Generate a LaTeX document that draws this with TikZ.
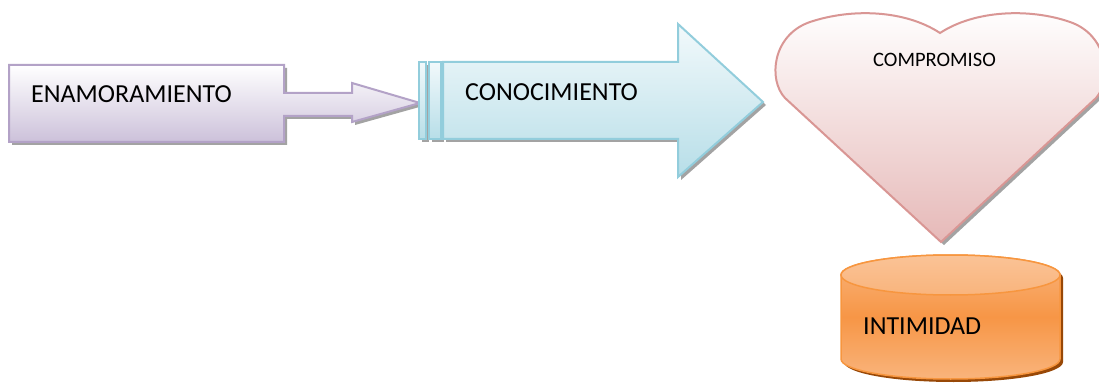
\documentclass[tikz,border=0pt]{standalone}
\usepackage{fontspec}
\setmainfont{Carlito}
\definecolor{purpleedge}{HTML}{B3A2C7}
\definecolor{purplelow}{HTML}{CCC1DA}
\definecolor{blueedge}{HTML}{92CDDC}
\definecolor{bluetop}{HTML}{F2F9FB}
\definecolor{bluelow}{HTML}{B7DEE8}
\definecolor{heartedge}{HTML}{D99694}
\definecolor{heartlow}{HTML}{E6B9B8}
\definecolor{orangemain}{HTML}{F79646}
\definecolor{orangelight}{HTML}{F9B47C}
\definecolor{orangeedge}{HTML}{F7963F}
\definecolor{brownshadow}{HTML}{984807}
\definecolor{shadowgray}{HTML}{A3A3A3}
\tikzset{
  shapeshadow/.style={fill=shadowgray, draw=none, shift={(3,3)}},
  purpleshape/.style={draw=purpleedge, line width=2pt, shading=axis, top color=white, bottom color=purplelow},
  blueshape/.style={draw=blueedge, line width=2pt, shading=axis, top color=bluetop, bottom color=bluelow},
  heartshape/.style={draw=heartedge, line width=2pt, shading=axis, top color=white, bottom color=heartlow},
  cylbody/.style={draw=orangeedge, line width=1.5pt, shading=axis, top color=orangelight, bottom color=orangelight, middle color=orangemain},
  cyltop/.style={draw=orangeedge, line width=1.5pt, shading=axis, top color=orangelight!80!white, bottom color=orangelight},
  bigtext/.style={font=\fontsize{26}{30}\selectfont, anchor=base west, inner sep=0pt},
  smalltext/.style={font=\fontsize{20.5}{24}\selectfont, anchor=base west, inner sep=0pt},
}
\begin{document}
\begin{tikzpicture}[x=1pt,y=-1pt]
\useasboundingbox (0,0) rectangle (1099,387);
\fill[white] (0,0) rectangle (1099,387);
% ENAMORAMIENTO callout arrow
\def\purplepath{(9,65) -- (284,65) -- (284,93) -- (352,93) -- (352,83) -- (420,103) -- (352,122) -- (352,116) -- (284,116) -- (284,142) -- (9,142) -- cycle}
\fill[shapeshadow] \purplepath;
\path[purpleshape] \purplepath;
\node[bigtext] (enam) at (31,103) {ENAMORAMIENTO};
% CONOCIMIENTO striped arrow
\def\stripeA{(419,62) rectangle (426,139)}
\def\stripeB{(429,62) rectangle (441,139)}
\def\bluepath{(443,62) -- (678,62) -- (678,24) -- (763,102) -- (678,177) -- (678,139) -- (443,139) -- cycle}
\fill[shapeshadow] \stripeA;
\fill[shapeshadow] \stripeB;
\fill[shapeshadow] \bluepath;
\path[blueshape] \stripeA;
\path[blueshape] \stripeB;
\path[blueshape] \bluepath;
\node[bigtext] (cono) at (465,101) {CONOCIMIENTO};
% COMPROMISO heart
\def\heartpath{(941,242) -- (785,98) .. controls (768,80) and (772,35) .. (810,22) .. controls (852,8) and (905,10) .. (940,33) .. controls (975,10) and (1030,8) .. (1070,22) .. controls (1108,35) and (1112,80) .. (1096,98) -- cycle}
\fill[shapeshadow] \heartpath;
\path[heartshape] \heartpath;
\node[smalltext] (comp) at (873,67) {COMPROMISO};
% INTIMIDAD cylinder
\def\cylpath{(841,275) -- (841,359) .. controls (841,370.05) and (890,379) .. (950.5,379) .. controls (1011,379) and (1060,370.05) .. (1060,359) -- (1060,275) .. controls (1060,263.95) and (1011,255) .. (950.5,255) .. controls (890,255) and (841,263.95) .. (841,275) -- cycle}
\fill[brownshadow, shift={(3,3)}] \cylpath;
\path[cylbody] \cylpath;
\path[cyltop] (841,275) .. controls (841,263.95) and (890,255) .. (950.5,255) .. controls (1011,255) and (1060,263.95) .. (1060,275) .. controls (1060,286.05) and (1011,295) .. (950.5,295) .. controls (890,295) and (841,286.05) .. (841,275) -- cycle;
\node[bigtext] (inti) at (863,334) {INTIMIDAD};
\end{tikzpicture}
\end{document}
